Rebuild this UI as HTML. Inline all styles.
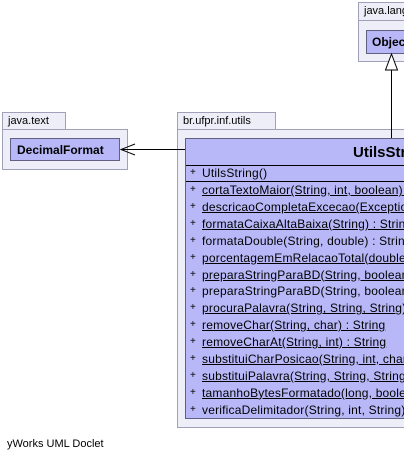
<!DOCTYPE html>
<html style="overflow:hidden;"><head><style>
body{margin:0;width:404px;height:464px;background:#fff;position:relative;overflow:hidden;font-family:"Liberation Sans",sans-serif;}
.a{position:absolute;box-sizing:border-box;}
.tab{background:#eeeef8;border:1px solid #a0a0b8;border-right:none;font-size:11px;color:#000;padding-left:5px;line-height:16px;overflow:hidden;white-space:nowrap;}
.tab.f{border-right:1px solid #a0a0b8;}
.pk{background:#eeeef8;border:1px solid #a0a0b8;}
.cl{background:#b8b8f8;border:1px solid #606080;overflow:hidden;}
.row{position:absolute;left:4px;font-size:12px;letter-spacing:0.2px;white-space:nowrap;line-height:14px;}
.row u{text-decoration:underline;}
.p{display:inline-block;width:12px;font-size:10px;vertical-align:top;}
</style></head><body>
<div class="a tab" style="left:358px;top:2px;width:46px;height:19px;">java.lang</div>
<div class="a pk" style="left:358px;top:20px;width:46px;height:42px;border-right:none;"></div>
<div class="a cl" style="left:366px;top:30px;width:38px;height:24px;border-right:none;font-weight:bold;font-size:12px;padding:4px 0 0 5px;white-space:nowrap;">Object</div>
<div class="a tab f" style="left:2px;top:112px;width:64px;height:18px;">java.text</div>
<div class="a pk" style="left:2px;top:129px;width:126px;height:41px;"></div>
<div class="a cl" style="left:10px;top:138px;width:110px;height:23px;font-weight:bold;font-size:12px;padding:4px 0 0 6px;">DecimalFormat</div>
<div class="a tab f" style="left:177px;top:112px;width:99px;height:18px;">br.ufpr.inf.utils</div>
<div class="a pk" style="left:177px;top:129px;width:227px;height:299px;border-right:none;"></div>
<div class="a cl" style="left:185px;top:138px;width:219px;height:281px;border-right:none;">
 <div style="position:absolute;left:167px;top:5px;font-weight:bold;font-size:15px;white-space:nowrap;">UtilsString</div>
 <div style="position:absolute;left:0;right:0;top:26px;border-top:1px solid #000;"></div>
 <div style="position:absolute;left:0;right:0;top:42px;border-top:1px solid #000;"></div>
 <div class="row" style="top:27px;"><span class="p">+</span>UtilsString()</div>
 <div style="position:absolute;left:0;top:44px;">
  <div class="row" style="top:0px;"><span class="p">+</span><u>cortaTextoMaior(String, int, boolean) : String</u></div>
  <div class="row" style="top:16.9px;"><span class="p">+</span><u>descricaoCompletaExcecao(Exception) : String</u></div>
  <div class="row" style="top:33.8px;"><span class="p">+</span><u>formataCaixaAltaBaixa(String) : String</u></div>
  <div class="row" style="top:50.7px;"><span class="p">+</span>formataDouble(String, double) : String</div>
  <div class="row" style="top:67.6px;"><span class="p">+</span><u>porcentagemEmRelacaoTotal(double, double)</u></div>
  <div class="row" style="top:84.5px;"><span class="p">+</span><u>preparaStringParaBD(String, boolean) : String</u></div>
  <div class="row" style="top:101.4px;"><span class="p">+</span>preparaStringParaBD(String, boolean) : String</div>
  <div class="row" style="top:118.3px;"><span class="p">+</span><u>procuraPalavra(String, String, String) : String</u></div>
  <div class="row" style="top:135.2px;"><span class="p">+</span><u>removeChar(String, char) : String</u></div>
  <div class="row" style="top:152.1px;"><span class="p">+</span><u>removeCharAt(String, int) : String</u></div>
  <div class="row" style="top:169px;"><span class="p">+</span><u>substituiCharPosicao(String, int, char) : String</u></div>
  <div class="row" style="top:185.9px;"><span class="p">+</span><u>substituiPalavra(String, String, String, int)</u></div>
  <div class="row" style="top:202.8px;"><span class="p">+</span><u>tamanhoBytesFormatado(long, boolean) : String</u></div>
  <div class="row" style="top:219.7px;"><span class="p">+</span>verificaDelimitador(String, int, String) : int</div>
 </div>
</div>
<svg class="a" style="left:0;top:0;" width="404" height="464">
 <line x1="391.5" y1="70" x2="391.5" y2="138" stroke="#000" stroke-width="1"/>
 <polygon points="391.5,54 385.5,70 397.5,70" fill="#fff" stroke="#000"/>
 <line x1="121" y1="149.5" x2="185" y2="149.5" stroke="#000"/>
 <polyline points="135,144 121,149.5 135,155" fill="none" stroke="#000"/>
</svg>
<div class="a" style="left:7px;top:438px;font-size:11px;">yWorks UML Doclet</div>
</body></html>
